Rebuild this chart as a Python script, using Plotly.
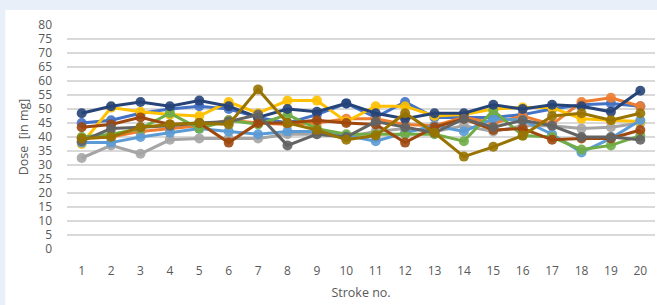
import plotly.graph_objects as go

strokes = list(range(1, 21))

s_darkblue = [48.5, 51, 52.5, 51, 53, 51, 47, 50, 49, 52, 48.5, 46.5, 48.5, 48.5, 51.5, 50, 51.5, 51, 49, 56.5]
s_blue = [45, 46, 48.5, 50, 51, 50, 47, 45, 48, 52, 47, 52.5, 47, 47, 47, 48, 50, 51.5, 52, 51]
s_yellow = [37.5, 50.5, 49, 48, 47.5, 52.5, 48.5, 53, 53, 45.5, 51, 51, 47.5, 48, 50, 50.5, 50.5, 46.5, 46, 45.5]
s_orange = [39.5, 40, 42, 43, 44, 46, 45, 44.5, 45, 46.5, 46.5, 44.5, 44, 47, 45, 47.5, 44.5, 52.5, 54, 51]
s_gray = [32.5, 37, 34, 39, 39.5, 39.5, 39.5, 41, 41, 40, 42, 43, 42, 44, 42, 44, 44, 43, 43.5, 45]
s_lightblue = [38, 38, 40, 41.5, 43, 42, 41, 42, 42, 40.5, 38.5, 41.5, 44, 42, 46.5, 46, 41, 34.5, 39.5, 46]
s_green = [40, 41, 43, 48.5, 43, 46, 44.5, 48, 43, 41, 41, 41, 41, 38.5, 49.5, 40.5, 40, 35.5, 37, 40.5]
s_brown = [43.5, 44.5, 47, 44.5, 45, 38, 45, 45, 46, 45, 44.5, 38, 43.5, 46.5, 42.5, 43, 39, 39.5, 39.5, 42.5]
s_darkgray = [38.5, 43, 43.5, 44, 45, 45.5, 48, 37, 41, 40, 45.5, 43.5, 41.5, 46.5, 43.5, 46, 44, 40, 40, 39]
s_darkgold = [39.5, 40, 43.5, 44.5, 45, 44.5, 57, 45, 42.5, 39, 40.5, 48.5, 41.5, 33, 36.5, 40.5, 47.5, 48.5, 46, 48.5]

series = [
    ("Series 1", s_blue, "#4472C4"),
    ("Series 2", s_orange, "#ED7D31"),
    ("Series 3", s_gray, "#A5A5A5"),
    ("Series 4", s_yellow, "#FFC000"),
    ("Series 5", s_lightblue, "#5B9BD5"),
    ("Series 6", s_green, "#70AD47"),
    ("Series 7", s_darkblue, "#264478"),
    ("Series 8", s_brown, "#9E480E"),
    ("Series 9", s_darkgray, "#636363"),
    ("Series 10", s_darkgold, "#997300"),
]

fig = go.Figure()
for name, vals, col in series:
    fig.add_trace(go.Scatter(
        x=strokes, y=vals, name=name, mode="lines+markers",
        line=dict(color=col, width=3),
        marker=dict(color=col, size=10, opacity=0.9),
    ))

fig.update_layout(
    width=657, height=305,
    margin=dict(l=67, r=2, t=25, b=56),
    paper_bgcolor="#E9EFF8",
    plot_bgcolor="white",
    showlegend=False,
    font=dict(family="Open Sans, Liberation Sans, sans-serif", color="#595959"),
    shapes=[dict(type="rect", xref="paper", yref="paper",
                 x0=-0.105, x1=1.01, y0=-0.3, y1=1.067,
                 fillcolor="white", line=dict(width=0), layer="below")],
)
fig.update_xaxes(
    range=[0.5, 20.5], tickmode="array", tickvals=strokes,
    ticktext=[str(s) for s in strokes],
    showgrid=False, zeroline=False, showline=False,
    tickfont=dict(size=12, color="#595959"),
    ticklabelstandoff=13,
    title=dict(text="Stroke no.", font=dict(size=12.5, color="#595959"), standoff=10),
)
fig.update_yaxes(
    range=[0, 80], dtick=5, tick0=0,
    showgrid=True, gridcolor="#D9D9D9", gridwidth=1.5,
    zeroline=False, showline=False,
    tickfont=dict(size=12, color="#595959"),
    ticklabelstandoff=14,
    title=dict(text="Dose  [in mg]", font=dict(size=12.5, color="#595959"), standoff=6),
)

fig.write_html(
    "out.html",
    config={"displayModeBar": False},
    post_script="document.body.style.margin='0';document.body.style.background='#E9EFF8';",
)
